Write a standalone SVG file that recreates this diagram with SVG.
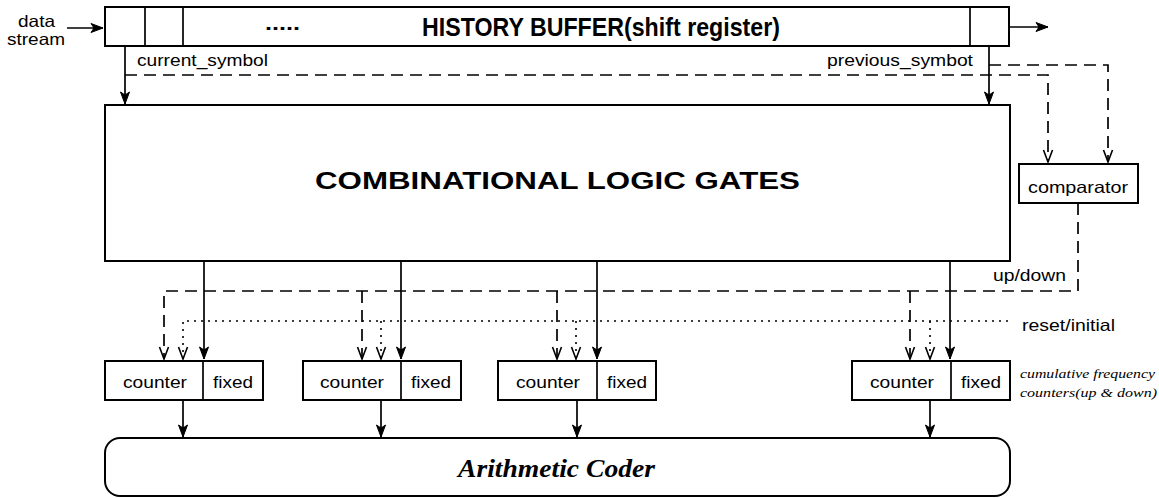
<svg xmlns="http://www.w3.org/2000/svg" width="1159" height="498" viewBox="0 0 1159 498">
<style>
.box{fill:#fff;stroke:#000;stroke-width:2}
.ln{fill:none;stroke:#000;stroke-width:1.7}
.dash{fill:none;stroke:#000;stroke-width:1.7;stroke-dasharray:12 7}
.dot{fill:none;stroke:#000;stroke-width:1.6;stroke-dasharray:2 5}
.t{font-family:"Liberation Sans",Arial,sans-serif;font-size:16.5px;fill:#000}
.b{font-family:"Liberation Sans",Arial,sans-serif;font-weight:bold;fill:#000}
.i{font-family:"Liberation Serif","Times New Roman",serif;font-style:italic;fill:#000}
</style>
<defs>
<marker id="ah" markerUnits="userSpaceOnUse" markerWidth="16" markerHeight="14" viewBox="-14 -7 16 14" refX="0" refY="0" orient="auto">
<path d="M-12,-4.5 L0,0 L-12,4.5 L-9,0 z" fill="#000" stroke="#000" stroke-width="1"/>
</marker>
<marker id="av" markerUnits="userSpaceOnUse" markerWidth="16" markerHeight="14" viewBox="-14 -7 16 14" refX="0" refY="0" orient="auto">
<path d="M-12,-4.5 L0,0 L-12,4.5" fill="none" stroke="#000" stroke-width="1.6"/>
</marker>
</defs>
<rect width="1159" height="498" fill="#fff"/>

<g id="connectors">
<path class="ln" d="M67,28 H103" marker-end="url(#ah)"/>
<path class="ln" d="M1009,27 H1048" marker-end="url(#ah)"/>
<path class="ln" d="M125,46 V104" marker-end="url(#ah)"/>
<path class="ln" d="M989,46 V104" marker-end="url(#ah)"/>
<path class="dash" d="M125,75 H1048 V162" marker-end="url(#av)"/>
<path class="dash" d="M989,65 H1108 V162" marker-end="url(#av)"/>
<path class="dash" d="M1078,203 V291 H164 V359" marker-end="url(#av)"/>
<path class="dash" d="M362,291 V359" marker-end="url(#av)"/>
<path class="dash" d="M557,291 V359" marker-end="url(#av)"/>
<path class="dash" d="M910,291 V359" marker-end="url(#av)"/>
<path class="dot" d="M1008,321 H183 V359" marker-end="url(#av)"/>
<path class="dot" d="M381,321 V359" marker-end="url(#av)"/>
<path class="dot" d="M576,321 V359" marker-end="url(#av)"/>
<path class="dot" d="M930,321 V359" marker-end="url(#av)"/>
<path class="ln" d="M204,261 V359" marker-end="url(#ah)"/>
<path class="ln" d="M401,261 V359" marker-end="url(#ah)"/>
<path class="ln" d="M597,261 V359" marker-end="url(#ah)"/>
<path class="ln" d="M950,261 V359" marker-end="url(#ah)"/>
<path class="ln" d="M183,400 V437" marker-end="url(#ah)"/>
<path class="ln" d="M381,400 V437" marker-end="url(#ah)"/>
<path class="ln" d="M577,400 V437" marker-end="url(#ah)"/>
<path class="ln" d="M930,400 V437" marker-end="url(#ah)"/>
</g>

<g id="labels">
<text class="t" x="18" y="27" textLength="37" lengthAdjust="spacingAndGlyphs">data</text>
<text class="t" x="7" y="45" textLength="58" lengthAdjust="spacingAndGlyphs">stream</text>
<text class="t" x="137" y="66" textLength="131" lengthAdjust="spacingAndGlyphs">current_symbol</text>
<text class="t" x="827" y="66" textLength="146" lengthAdjust="spacingAndGlyphs">previous_symbot</text>
<text class="t" x="993" y="281" textLength="73" lengthAdjust="spacingAndGlyphs">up/down</text>
<text class="t" x="1022" y="331" textLength="93" lengthAdjust="spacingAndGlyphs">reset/initial</text>
<text class="i" x="1020" y="378" font-size="13.5" textLength="135" lengthAdjust="spacingAndGlyphs">cumulative frequency</text>
<text class="i" x="1020" y="397" font-size="13.5" textLength="137" lengthAdjust="spacingAndGlyphs">counters(up &amp; down)</text>
</g>

<g id="history-buffer">
<rect class="box" x="105" y="7" width="904" height="39"/>
<line class="ln" x1="145" y1="7" x2="145" y2="46"/>
<line class="ln" x1="183" y1="7" x2="183" y2="46"/>
<line class="ln" x1="970" y1="7" x2="970" y2="46"/>
<text class="b" x="265" y="30" font-size="20" textLength="35" lengthAdjust="spacingAndGlyphs">.....</text>
<text class="b" x="422" y="36" font-size="25" textLength="358" lengthAdjust="spacingAndGlyphs">HISTORY BUFFER(shift register)</text>
</g>

<g id="combinational-logic">
<rect class="box" x="105" y="105" width="905" height="156"/>
<text class="b" x="315" y="189" font-size="23.5" textLength="485" lengthAdjust="spacingAndGlyphs">COMBINATIONAL LOGIC GATES</text>
</g>

<g id="comparator">
<rect class="box" x="1019" y="164" width="119" height="39"/>
<text class="t" x="1028" y="193" textLength="100" lengthAdjust="spacingAndGlyphs">comparator</text>
</g>

<g id="counter1">
<rect class="box" x="105" y="361" width="158" height="39"/>
<line class="ln" x1="203" y1="361" x2="203" y2="400"/>
<text class="t" x="123" y="388" textLength="64" lengthAdjust="spacingAndGlyphs">counter</text>
<text class="t" x="213" y="388" textLength="40" lengthAdjust="spacingAndGlyphs">fixed</text>
</g>
<g id="counter2">
<rect class="box" x="303" y="361" width="158" height="39"/>
<line class="ln" x1="401" y1="361" x2="401" y2="400"/>
<text class="t" x="320" y="388" textLength="64" lengthAdjust="spacingAndGlyphs">counter</text>
<text class="t" x="411" y="388" textLength="40" lengthAdjust="spacingAndGlyphs">fixed</text>
</g>
<g id="counter3">
<rect class="box" x="498" y="361" width="158" height="39"/>
<line class="ln" x1="597" y1="361" x2="597" y2="400"/>
<text class="t" x="516" y="388" textLength="64" lengthAdjust="spacingAndGlyphs">counter</text>
<text class="t" x="607" y="388" textLength="40" lengthAdjust="spacingAndGlyphs">fixed</text>
</g>
<g id="counter4">
<rect class="box" x="852" y="361" width="158" height="39"/>
<line class="ln" x1="951" y1="361" x2="951" y2="400"/>
<text class="t" x="870" y="388" textLength="64" lengthAdjust="spacingAndGlyphs">counter</text>
<text class="t" x="961" y="388" textLength="40" lengthAdjust="spacingAndGlyphs">fixed</text>
</g>

<g id="arithmetic-coder">
<rect class="box" x="105" y="438" width="905" height="58" rx="15" ry="15"/>
<text class="i" x="458" y="477" font-size="25" font-weight="bold" textLength="197" lengthAdjust="spacingAndGlyphs">Arithmetic Coder</text>
</g>
</svg>
